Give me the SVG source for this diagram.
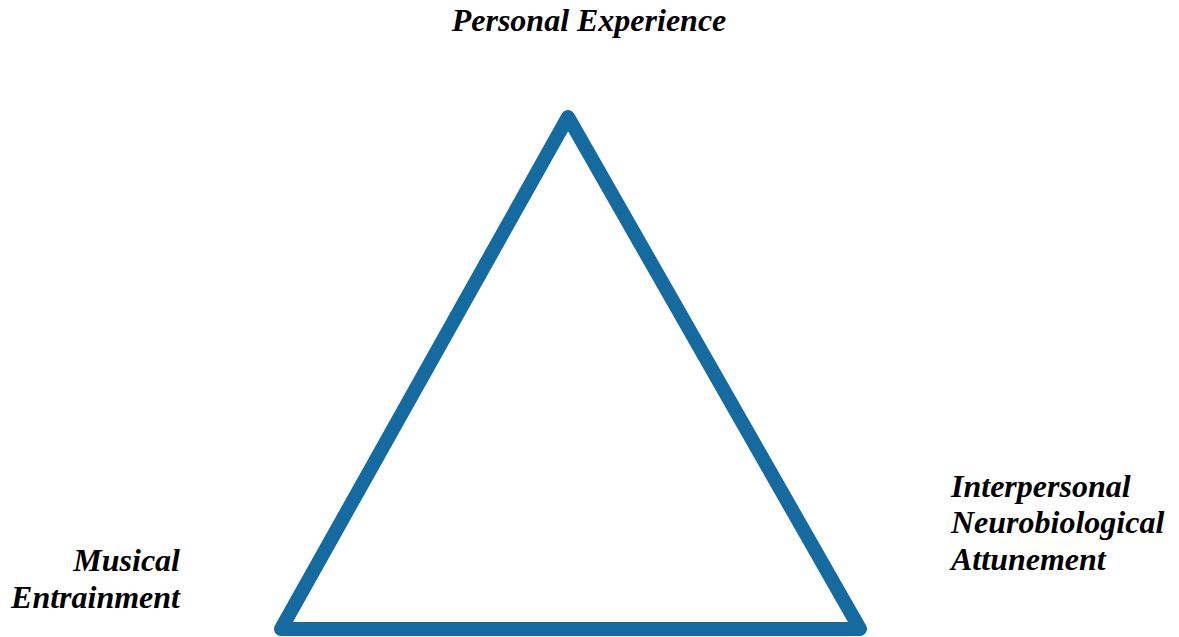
<svg xmlns="http://www.w3.org/2000/svg" width="1179" height="637" viewBox="0 0 1179 637">
<style>
.lbl{font-family:"Liberation Serif","Times New Roman",serif;font-weight:bold;font-style:italic;font-size:32px;fill:#000}
.tri{fill:none;stroke:#156a9f;stroke-width:14;stroke-linejoin:round}
</style>
<rect width="1179" height="637" fill="#fff"/>
<g id="connectors">
<polygon class="tri" points="568,117 860,629 281,629"/>
</g>
<g id="personal-experience">
<text class="lbl" x="589" y="31" text-anchor="middle">Personal Experience</text>
</g>
<g id="musical-entrainment">
<text class="lbl" x="180" y="571" text-anchor="end">Musical</text>
<text class="lbl" x="180" y="608" text-anchor="end">Entrainment</text>
</g>
<g id="interpersonal">
<text class="lbl" x="951" y="497">Interpersonal</text>
<text class="lbl" x="951" y="533">Neurobiological</text>
<text class="lbl" x="951" y="570">Attunement</text>
</g>
</svg>
